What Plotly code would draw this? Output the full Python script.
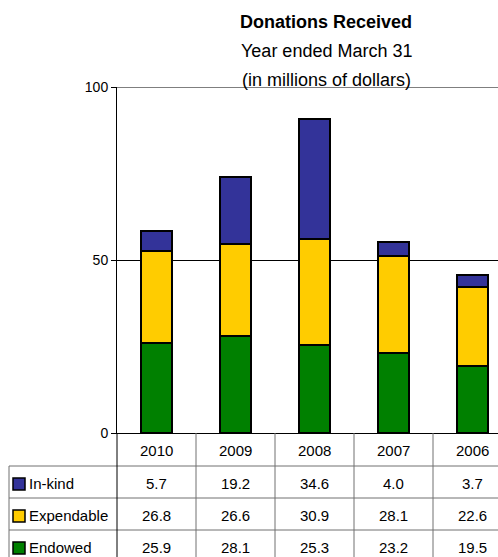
import plotly.graph_objects as go

# Donations by fiscal year (millions of dollars)
years = ["2010", "2009", "2008", "2007", "2006"]
in_kind = [5.7, 19.2, 34.6, 4.0, 3.7]
expendable = [26.8, 26.6, 30.9, 28.1, 22.6]
endowed = [25.9, 28.1, 25.3, 23.2, 19.5]

series = [
    ("Endowed", endowed, "#008000"),
    ("Expendable", expendable, "#FFCC00"),
    ("In-kind", in_kind, "#333399"),
]
# table rows are listed top-down
table_rows = [
    ("In-kind", in_kind, "#333399"),
    ("Expendable", expendable, "#FFCC00"),
    ("Endowed", endowed, "#008000"),
]

W, H = 498, 557
ML, MT, MB = 117, 87, 124
plot_w = W - ML
plot_h = H - MT - MB
col_w = 79  # width of one category column in pixels
x_lo = -0.5
x_hi = x_lo + plot_w / col_w

FONT = "Liberation Sans, Arial, sans-serif"


def py(p):
    """pixel row -> paper y"""
    return (H - MB - p) / plot_h


def pxp(p):
    """pixel column -> paper x"""
    return (p - ML) / plot_w


xs = list(range(len(years)))

fig = go.Figure()
for name, vals, color in series:
    fig.add_trace(go.Bar(
        x=xs, y=vals, name=name, width=0.4,
        marker=dict(color=color, line=dict(color="black", width=2)),
        showlegend=False, hoverinfo="x+y+name",
    ))

shapes = []
annotations = []

# top gridline at the end of the value range
shapes.append(dict(type="line", xref="paper", yref="y", x0=0, x1=1, y0=100, y1=100,
                   line=dict(color="black", width=1), layer="below"))

# titles
for text, y_pix, bold in [("Donations Received", 22, True),
                          ("Year ended March 31", 51, False),
                          ("(in millions of dollars)", 80, False)]:
    annotations.append(dict(
        text=f"<b>{text}</b>" if bold else text, xref="paper", yref="paper",
        x=pxp(326), y=py(y_pix), xanchor="center", yanchor="middle",
        showarrow=False, font=dict(family=FONT, size=18, color="black"),
    ))

# data table geometry (pixel rows)
row_edges = [H - MB, 466, 498, 530, 562]
grey = "#707070"

# horizontal table rules
for yp in row_edges[1:]:
    shapes.append(dict(type="line", xref="paper", yref="paper",
                       x0=pxp(9), x1=1.05, y0=py(yp), y1=py(yp),
                       line=dict(color=grey, width=1)))
# left border of the legend column
shapes.append(dict(type="line", xref="paper", yref="paper",
                   x0=pxp(9), x1=pxp(9), y0=py(row_edges[1]), y1=py(row_edges[-1]),
                   line=dict(color=grey, width=1)))
# axis line continued down through the table
shapes.append(dict(type="line", xref="paper", yref="paper",
                   x0=0, x1=0, y0=0, y1=py(row_edges[-1]),
                   line=dict(color="black", width=1)))
# column separators
for i in range(1, len(years) + 1):
    xb = (i - 0.5 - x_lo) / (x_hi - x_lo)
    if xb <= 1:
        shapes.append(dict(type="line", xref="paper", yref="paper",
                           x0=xb, x1=xb, y0=0, y1=py(row_edges[-1]),
                           line=dict(color=grey, width=1)))

# header row: years
hdr_y = py((row_edges[0] + row_edges[1]) / 2 + 1)
for i, yr in enumerate(years):
    annotations.append(dict(text=yr, xref="x", yref="paper", x=i, y=hdr_y,
                            xanchor="center", yanchor="middle", showarrow=False,
                            font=dict(family=FONT, size=15, color="black")))

# series rows
for r, (name, vals, color) in enumerate(table_rows):
    yc = (row_edges[r + 1] + row_edges[r + 2]) / 2 + 1
    shapes.append(dict(type="rect", xref="paper", yref="paper",
                       x0=pxp(13), x1=pxp(25), y0=py(yc - 5), y1=py(yc + 7),
                       fillcolor=color, line=dict(color="black", width=1.5)))
    annotations.append(dict(text=name, xref="paper", yref="paper",
                            x=pxp(27), y=py(yc), xanchor="left", yanchor="middle",
                            showarrow=False,
                            font=dict(family=FONT, size=15, color="black")))
    for i, v in enumerate(vals):
        annotations.append(dict(text=f"{v:.1f}", xref="x", yref="paper", x=i, y=py(yc),
                                xanchor="center", yanchor="middle", showarrow=False,
                                font=dict(family=FONT, size=15, color="black")))

fig.update_layout(
    width=W, height=H,
    margin=dict(l=ML, r=0, t=MT, b=MB, pad=0),
    barmode="stack",
    plot_bgcolor="white", paper_bgcolor="white",
    font=dict(family=FONT, size=14, color="black"),
    xaxis=dict(range=[x_lo, x_hi], showticklabels=False, ticks="",
               showgrid=False, zeroline=False, showline=True,
               linecolor="black", linewidth=1, fixedrange=True),
    yaxis=dict(range=[0, 100], tickvals=[0, 50, 100], ticks="outside",
               ticklen=5, tickcolor="black", showgrid=True, gridcolor="black",
               gridwidth=1, zeroline=False, showline=True, linecolor="black",
               linewidth=1, tickfont=dict(family=FONT, size=14, color="black"),
               fixedrange=True),
    shapes=shapes,
    annotations=annotations,
)

fig.write_html("out.html", config={"displayModeBar": False})
